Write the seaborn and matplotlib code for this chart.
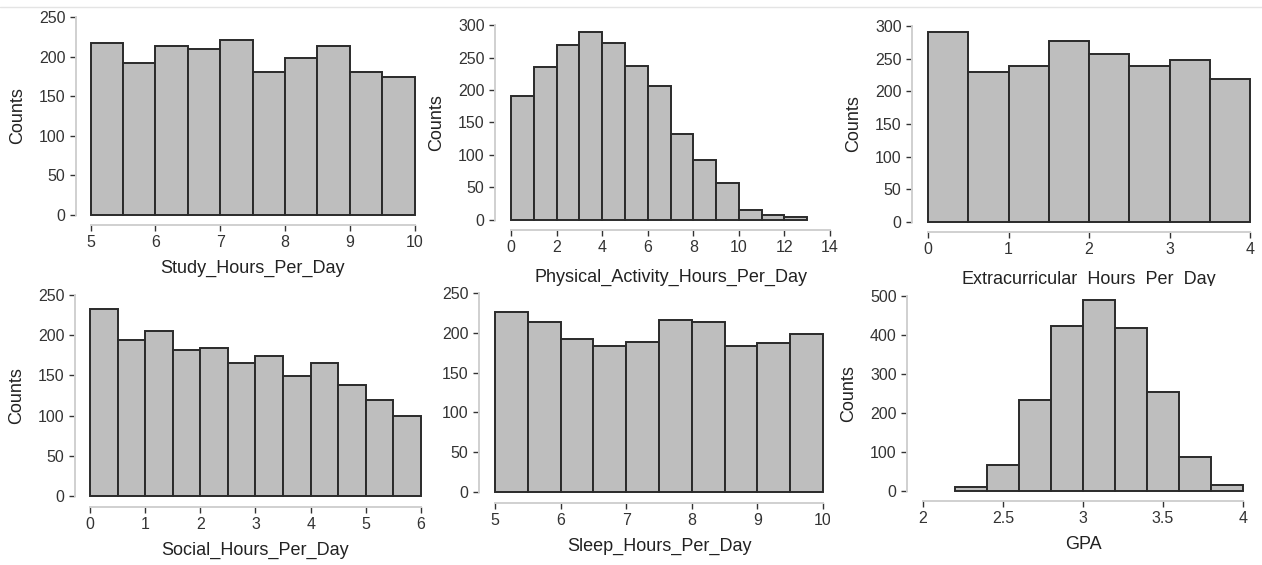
import matplotlib
matplotlib.use('Agg')
import matplotlib.pyplot as plt
import seaborn as sns
import numpy as np
import pandas as pd

sns.set_theme(style='ticks')
plt.rcParams['font.family'] = ['Liberation Sans', 'DejaVu Sans']

# bin edges and counts
study_edges = [5, 5.5, 6, 6.5, 7, 7.5, 8, 8.5, 9, 9.5, 10]
study_counts = [217, 192, 213, 210, 221, 180, 198, 213, 181, 174]

phys_edges = [0, 1, 2, 3, 4, 5, 6, 7, 8, 9, 10, 11, 12, 13]
phys_counts = [190, 235, 269, 289, 273, 237, 206, 132, 92, 57, 15, 7, 4]

extra_edges = [0, 0.5, 1, 1.5, 2, 2.5, 3, 3.5, 4]
extra_counts = [291, 229, 239, 277, 257, 239, 248, 219]

social_edges = [0, 0.5, 1, 1.5, 2, 2.5, 3, 3.5, 4, 4.5, 5, 5.5, 6]
social_counts = [232, 194, 205, 182, 184, 165, 174, 149, 166, 138, 120, 100]

sleep_edges = [5, 5.5, 6, 6.5, 7, 7.5, 8, 8.5, 9, 9.5, 10]
sleep_counts = [226, 213, 192, 183, 188, 216, 213, 183, 187, 199]

gpa_edges = [2.2, 2.4, 2.6, 2.8, 3.0, 3.2, 3.4, 3.6, 3.8, 4.0]
gpa_counts = [9, 67, 233, 423, 491, 419, 253, 88, 15]

labels = ['Study_Hours_Per_Day', 'Physical_Activity_Hours_Per_Day',
          'Extracurricular_Hours_Per_Day', 'Social_Hours_Per_Day',
          'Sleep_Hours_Per_Day', 'GPA']
x_ticks = [[5, 6, 7, 8, 9, 10], [0, 2, 4, 6, 8, 10, 12, 14], [0, 1, 2, 3, 4],
           [0, 1, 2, 3, 4, 5, 6], [5, 6, 7, 8, 9, 10], [2, 2.5, 3, 3.5, 4]]
x_ticklabels = [['5', '6', '7', '8', '9', '10'],
                ['0', '2', '4', '6', '8', '10', '12', '14'],
                ['0', '1', '2', '3', '4'],
                ['0', '1', '2', '3', '4', '5', '6'],
                ['5', '6', '7', '8', '9', '10'],
                ['2', '2.5', '3', '3.5', '4']]
y_ticks = [[0, 50, 100, 150, 200, 250], [0, 50, 100, 150, 200, 250, 300],
           [0, 50, 100, 150, 200, 250, 300], [0, 50, 100, 150, 200, 250],
           [0, 50, 100, 150, 200, 250], [0, 100, 200, 300, 400, 500]]

all_edges = [study_edges, phys_edges, extra_edges, social_edges, sleep_edges, gpa_edges]
all_counts = [study_counts, phys_counts, extra_counts, social_counts, sleep_counts, gpa_counts]

W, H = 1262, 565
# data area in pixels: left, top, right, bottom ; spine offsets in px ; xlabel pad
boxes = [(90.7, 17, 414.5, 215, 15, 10, 7), (511, 25, 830, 220, 16, 10, 10),
         (928, 26, 1250, 222, 16, 10, 9.5), (90, 295, 421, 496, 15, 11, 7),
         (495, 293, 823, 492, 16, 11, 7), (923, 296, 1243, 491, 16, 10, 7)]
px = 72 / 100

fig = plt.figure(figsize=(W / 100, H / 100), dpi=100)
fig.add_artist(plt.Line2D([0, 1], [1 - 7 / H, 1 - 7 / H], color='#e4e4e4', lw=1))
# the bottom-right panel was pasted over the end of the label above it
fig.add_artist(plt.Rectangle((830 / W, 0), 1 - 830 / W, 1 - 285.5 / H,
                             facecolor='white', edgecolor='none', zorder=0.5))

for i in range(6):
    l, t, r, b, loff, boff, xpad = boxes[i]
    ax = fig.add_axes([l / W, 1 - b / H, (r - l) / W, (b - t) / H])
    ax.set_zorder(1 if i == 5 else 0)
    edges = np.array(all_edges[i], dtype=float)
    df = pd.DataFrame({'x': (edges[:-1] + edges[1:]) / 2, 'w': all_counts[i]})
    sns.histplot(data=df, x='x', weights='w', bins=list(edges), ax=ax,
                 color='#bebebe', edgecolor='#2a2a2a', linewidth=1.4, alpha=1)
    for p in ax.patches:
        p.set_clip_on(False)
    ax.set_xlim(x_ticks[i][0], x_ticks[i][-1])
    ax.set_ylim(0, y_ticks[i][-1])
    ax.set_xticks(x_ticks[i])
    ax.set_xticklabels(x_ticklabels[i])
    ax.set_yticks(y_ticks[i])
    for s in ['top', 'right']:
        ax.spines[s].set_visible(False)
    ax.spines['left'].set_bounds(0, y_ticks[i][-1])
    ax.spines['bottom'].set_bounds(x_ticks[i][0], x_ticks[i][-1])
    ax.spines['left'].set_position(('outward', loff * px))
    ax.spines['bottom'].set_position(('outward', boff * px))
    for s in ['left', 'bottom']:
        ax.spines[s].set_color('#d0d0d0')
        ax.spines[s].set_linewidth(1.4)
    ax.tick_params(axis='both', direction='out', length=4, width=1,
                   color='#333333', labelsize=11.5, labelcolor='#333333', pad=3.5)
    ax.set_xlabel(labels[i], fontsize=13, color='#222222', labelpad=xpad)
    # the sleep panel's y label is covered in the reference
    ax.set_ylabel('Counts' if i != 4 else '', fontsize=13, color='#222222', labelpad=9)
    ax.grid(False)
    ax.set_facecolor('none')

fig.savefig('out.png', dpi=100)
